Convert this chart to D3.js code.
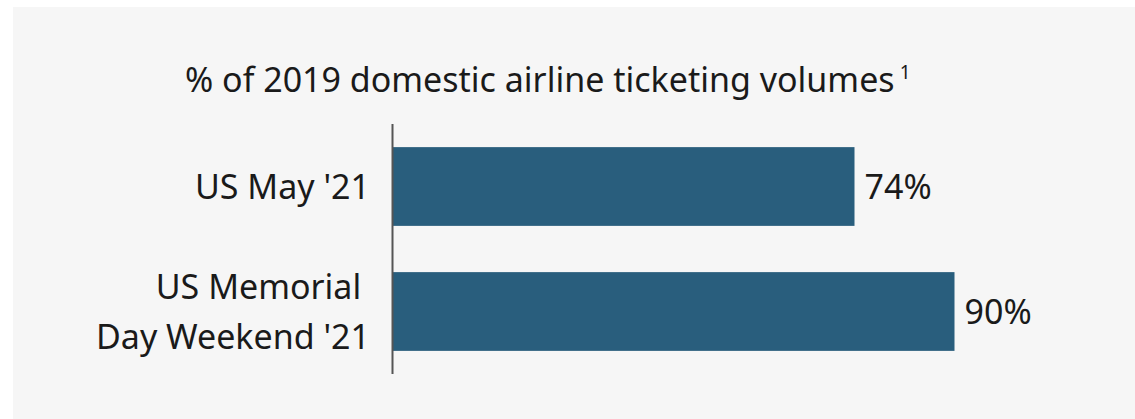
<!DOCTYPE html>
<html>
<head>
<meta charset="utf-8">
<script src="https://cdn.jsdelivr.net/npm/d3@7"></script>
<style>
  body { margin: 0; background: #ffffff; }
  text { font-family: "Noto Sans", sans-serif; fill: #1a1a1a; }
</style>
</head>
<body>
<div id="chart"></div>
<script>
// values
var categories = [["US May '21"], ["US Memorial ", "Day Weekend '21"]];
var values = [74, 90];
var valueLabels = ["74%", "90%"];
var title = "% of 2019 domestic airline ticketing volumes";
var titleNote = "1";

var width = 1135, height = 419;

var svg = d3.select("#chart")
  .append("svg")
    .attr("width", width)
    .attr("height", height)

// grey panel
svg.append("rect")
  .attr("x", 13)
  .attr("y", 7)
  .attr("width", width - 13)
  .attr("height", height - 7)
  .style("fill", "#f6f6f6")

var x = d3.scaleLinear()
  .domain([0, 100])
  .range([392, 1017])

var y = d3.scaleBand()
  .domain(d3.range(values.length))
  .range([124, 374])
  .paddingInner(0.37)
  .paddingOuter(0.185)

// title
var t = svg.append("text")
  .attr("x", 185)
  .attr("y", 92)
  .style("font-size", "34px")
  .text(title)
t.append("tspan")
  .attr("dx", 5)
  .attr("dy", -13)
  .style("font-size", "19px")
  .text(titleNote)

// bars
svg.append("g")
  .selectAll("rect")
  .data(values)
  .enter()
  .append("rect")
    .attr("x", x(0))
    .attr("y", function(d, i){ return y(i); })
    .attr("width", function(d){ return x(d) - x(0); })
    .attr("height", y.bandwidth())
    .style("fill", "#295e7d")

// value labels
svg.append("g")
  .selectAll("text")
  .data(values)
  .enter()
  .append("text")
    .attr("x", function(d){ return x(d) + 10; })
    .attr("y", function(d, i){ return y(i) + y.bandwidth() / 2; })
    .attr("dy", "0.38em")
    .style("font-size", "34px")
    .text(function(d, i){ return valueLabels[i]; })

// category labels, may wrap over two lines
var lineH = 50;
svg.append("g")
  .selectAll("text")
  .data(categories)
  .enter()
  .append("text")
    .attr("text-anchor", "end")
    .style("font-size", "34px")
    .style("white-space", "pre")
    .attr("y", function(d, i){ return y(i) + y.bandwidth() / 2 - (d.length - 1) * lineH / 2; })
  .selectAll("tspan")
  .data(function(d){ return d; })
  .enter()
  .append("tspan")
    .attr("x", 370)
    .attr("dy", function(d, j){ return j == 0 ? "0.38em" : lineH; })
    .text(function(d){ return d; })

// axis line (no ticks)
svg.append("line")
  .attr("x1", 392.5)
  .attr("x2", 392.5)
  .attr("y1", 124)
  .attr("y2", 374)
  .style("stroke", "#555555")
  .style("stroke-width", 2)
</script>
</body>
</html>
